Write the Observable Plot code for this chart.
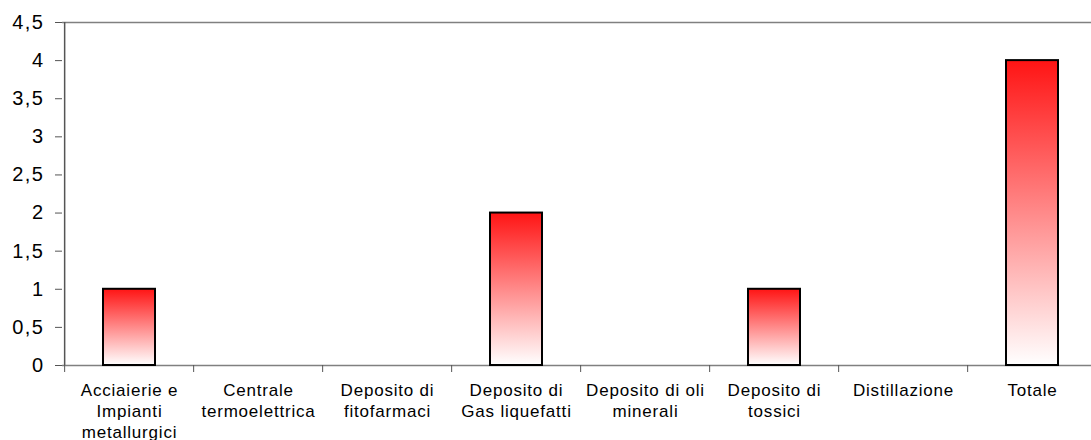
<!DOCTYPE html>
<html>
<head>
<meta charset="utf-8">
<script src="https://cdn.jsdelivr.net/npm/d3@7"></script>
<script src="https://cdn.jsdelivr.net/npm/@observablehq/plot@0.6"></script>
<style>
  html, body { margin: 0; padding: 0; background: #fff; }
  #chart svg { display: block; font-family: "Liberation Sans", Arial, sans-serif; }
  #chart svg g[aria-label="text"] text { letter-spacing: 0.8px; }
  #chart svg g[aria-label="y-axis tick label"] text { letter-spacing: 1.5px; }
</style>
</head>
<body>
<div id="chart"></div>
<script>
const categories = [
  "Acciaierie e\nImpianti\nmetallurgici",
  "Centrale\ntermoelettrica",
  "Deposito di\nfitofarmaci",
  "Deposito di\nGas liquefatti",
  "Deposito di oli\nminerali",
  "Deposito di\ntossici",
  "Distillazione",
  "Totale"
];
const values = [1, 0, 0, 2, 0, 1, 0, 4];
const yTicks = [0, 0.5, 1, 1.5, 2, 2.5, 3, 3.5, 4, 4.5];

const data = categories.map((c, i) => ({category: c, value: values[i]}));
const fmt = d => String(d).replace(".", ",");

const W = 1091, H = 440;
const left = 62, right = 1099.6;
const step = (right - left) / categories.length;

const plot = Plot.plot({
  width: W,
  height: H,
  marginLeft: left,
  marginRight: 0,
  marginTop: 22,
  marginBottom: 75,
  style: {background: "#fff", overflow: "visible"},
  x: {domain: categories, range: [left, right], paddingInner: 0.6, paddingOuter: 0.3, align: 0.5},
  y: {domain: [0, 4.5], range: [365, 22]},
  marks: [
    Plot.ruleY([0, 4.5], {stroke: "#808080", strokeWidth: 1.5}),
    Plot.ruleX([categories[0]], {x: d => d, y1: 0, y2: 4.5, dx: -step / 2, stroke: "#555", strokeWidth: 1.5}),
    Plot.axisY({
      ticks: yTicks, tickFormat: fmt, tickSize: 7, tickPadding: 11,
      fontSize: 20, stroke: "#555", fill: "#000", label: null
    }),
    Plot.axisX({
      tickSize: 7, text: null, dx: -step / 2, stroke: "#555", label: null
    }),
    Plot.barY(data.filter(d => d.value > 0), {
      x: "category", y: "value",
      fill: "url(#redGrad)", stroke: "#000", strokeWidth: 2
    }),
    Plot.text(categories, {
      x: d => d, y: () => 0, text: d => d,
      dy: 16, lineAnchor: "top", lineHeight: 1.22,
      fontSize: 17, fill: "#000", textAnchor: "middle"
    })
  ]
});

const ns = "http://www.w3.org/2000/svg";
const defs = document.createElementNS(ns, "defs");
defs.innerHTML = `<linearGradient id="redGrad" x1="0" y1="0" x2="0" y2="1">
  <stop offset="0" stop-color="#ff1414"/>
  <stop offset="1" stop-color="#ffffff"/>
</linearGradient>`;
plot.insertBefore(defs, plot.firstChild);
document.getElementById("chart").appendChild(plot);
</script>
</body>
</html>
